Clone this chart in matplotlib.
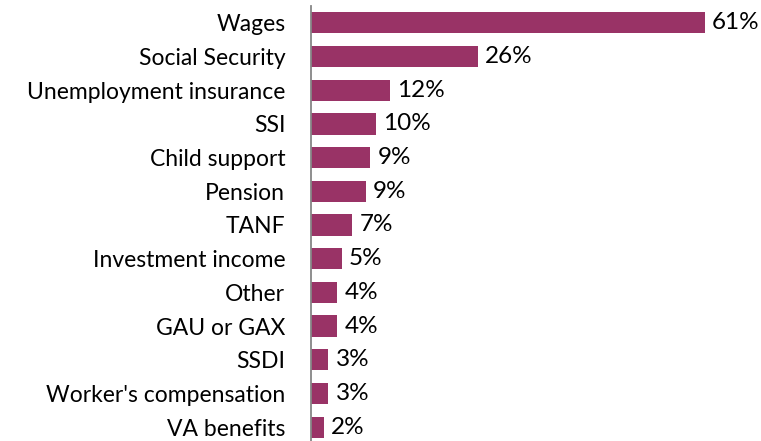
import matplotlib
matplotlib.use("Agg")
import matplotlib.pyplot as plt

categories = ["Wages", "Social Security", "Unemployment insurance", "SSI", "Child support",
              "Pension", "TANF", "Investment income", "Other", "GAU or GAX", "SSDI",
              "Worker's compensation", "VA benefits"]
values = [61, 26, 12, 10, 9, 9, 7, 5, 4, 4, 3, 3, 2]
# bar lengths as drawn (slightly unrounded)
lengths = [61, 25.9, 12.2, 10.0, 9.2, 8.5, 6.4, 4.8, 4.1, 4.1, 2.7, 2.7, 2.0]

plt.rcParams['font.family'] = ['Lato', 'DejaVu Sans']

fig = plt.figure(figsize=(7.61, 4.41), dpi=100)
ax = fig.add_axes([311/761, -3/441, 450/761, 438/441])
n = len(categories)
ys = list(range(n))
ax.barh(ys, lengths, height=0.63, color="#993366", edgecolor="none")
ax.set_ylim(n - 0.5, -0.5)
ax.set_xlim(0, 69.7)
ax.set_yticks(ys)
ax.set_yticklabels(categories, fontsize=16.5, color="#000000")
ax.tick_params(axis='y', length=0, pad=18.5)
ax.set_xticks([])
for s in ["top", "right", "bottom"]:
    ax.spines[s].set_visible(False)
ax.spines["left"].set_color("#868686")
ax.spines["left"].set_linewidth(1.3)
for y, l, v in zip(ys, lengths, values):
    ax.text(l + 1.1, y, f"{v}%", va="center", ha="left", fontsize=17.5, color="#000000")
fig.savefig("out.png", dpi=100)
